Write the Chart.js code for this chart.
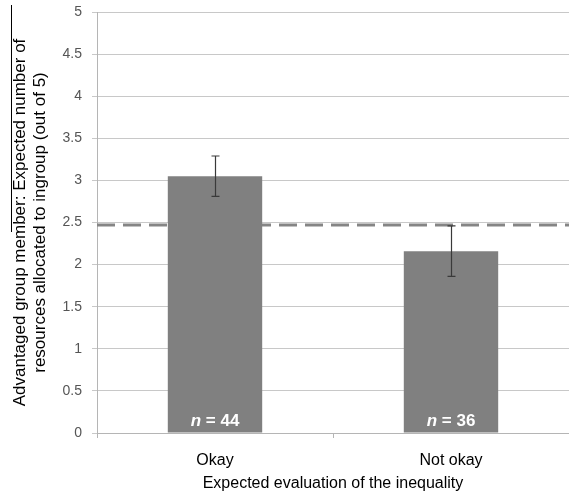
<!DOCTYPE html>
<html>
<head>
<meta charset="utf-8">
<script src="https://cdn.jsdelivr.net/npm/chart.js@4/dist/chart.umd.min.js"></script>
<style>
  html, body { margin: 0; padding: 0; background: #fff; }
  #wrap { width: 569px; height: 498px; }
</style>
</head>
<body>
<div id="wrap"><canvas id="chart" width="569" height="498"></canvas></div>
<script>
// values
const categories = ["Okay", "Not okay"];
const means = [3.05, 2.16];
const errors = [0.24, 0.3];
const sampleSizes = [44, 36];
const chanceLevel = 2.47;
const yTicks = [0, 0.5, 1, 1.5, 2, 2.5, 3, 3.5, 4, 4.5, 5];

const FONT = "'Liberation Sans', Arial, sans-serif";

// dashed reference line, drawn behind the bars
const refLine = {
  id: "refLine",
  beforeDatasetsDraw(chart) {
    const { ctx, chartArea, scales } = chart;
    const y = scales.y.getPixelForValue(chanceLevel);
    ctx.save();
    ctx.strokeStyle = "#858585";
    ctx.lineWidth = 3;
    ctx.setLineDash([18, 8]);
    ctx.beginPath();
    ctx.moveTo(chartArea.left, y);
    ctx.lineTo(chartArea.right, y);
    ctx.stroke();
    ctx.restore();
  },
};

// error bars and n labels
const barExtras = {
  id: "barExtras",
  afterDatasetsDraw(chart) {
    const { ctx, scales } = chart;
    const meta = chart.getDatasetMeta(0);
    ctx.save();
    meta.data.forEach((bar, i) => {
      const top = scales.y.getPixelForValue(means[i] + errors[i]);
      const bot = scales.y.getPixelForValue(means[i] - errors[i]);
      const x = Math.round(bar.x) + 0.5;
      ctx.strokeStyle = "#3a3a3a";
      ctx.lineWidth = 1.2;
      ctx.beginPath();
      ctx.moveTo(x, top);
      ctx.lineTo(x, bot);
      ctx.moveTo(x - 4, top);
      ctx.lineTo(x + 4, top);
      ctx.moveTo(x - 4, bot);
      ctx.lineTo(x + 4, bot);
      ctx.stroke();

      // "n = 44" inside the bar bottom
      const y = scales.y.getPixelForValue(0) - 12;
      const a = "n";
      const b = " = " + sampleSizes[i];
      ctx.fillStyle = "#ffffff";
      ctx.textBaseline = "middle";
      ctx.textAlign = "left";
      ctx.font = "italic bold 17px " + FONT;
      const wa = ctx.measureText(a).width;
      ctx.font = "bold 17px " + FONT;
      const wb = ctx.measureText(b).width;
      const x0 = bar.x - (wa + wb) / 2;
      ctx.font = "italic bold 17px " + FONT;
      ctx.fillText(a, x0, y);
      ctx.font = "bold 17px " + FONT;
      ctx.fillText(b, x0 + wa, y);
    });
    ctx.restore();
  },
  afterDraw(chart) {
    // stray rule beside the y-axis title in the original figure
    const { ctx } = chart;
    ctx.save();
    ctx.strokeStyle = "#000";
    ctx.lineWidth = 1;
    ctx.beginPath();
    ctx.moveTo(11.5, 5);
    ctx.lineTo(11.5, 232);
    ctx.stroke();
    ctx.restore();
  },
};

const ctx = document.getElementById("chart").getContext("2d");

new Chart(ctx, {
  type: "bar",
  data: {
    labels: categories,
    datasets: [
      {
        data: means,
        backgroundColor: "#808080",
        borderWidth: 0,
        barPercentage: 0.4,
        categoryPercentage: 1,
      },
    ],
  },
  options: {
    responsive: false,
    animation: false,
    layout: { padding: { left: 0, right: 0, top: 12, bottom: 0 } },
    plugins: {
      legend: { display: false },
      tooltip: { enabled: false },
    },
    scales: {
      x: {
        grid: {
          offset: true,
          drawOnChartArea: false,
          color: "#b5b5b5",
          tickLength: 5,
        },
        border: { color: "#b5b5b5" },
        ticks: {
          color: "#000",
          padding: 13,
          maxRotation: 0,
          font: { family: FONT, size: 16 },
        },
        title: {
          display: true,
          text: "Expected evaluation of the inequality",
          color: "#000",
          font: { family: FONT, size: 16 },
          padding: { top: 0, bottom: 5 },
        },
        afterFit(scale) {
          scale.height = 65;
          scale.paddingLeft = 0;
          scale.paddingRight = 0;
        },
      },
      y: {
        min: 0,
        max: 5,
        afterBuildTicks(scale) {
          scale.ticks = yTicks.map((v) => ({ value: v }));
        },
        grid: {
          color: "#c8c8c8",
          tickLength: 5,
        },
        border: { color: "#b5b5b5" },
        ticks: {
          color: "#555",
          padding: 10,
          font: { family: FONT, size: 14 },
          callback: (v) => String(v),
        },
        title: {
          display: true,
          text: [
            "Advantaged group member: Expected number of",
            "resources allocated to ingroup (out of 5)",
          ],
          color: "#000",
          font: { family: FONT, size: 17, lineHeight: 1.18 },
          padding: { top: 10, bottom: 0 },
        },
        afterFit(scale) {
          scale.width = 97;
          scale.paddingTop = 0;
          scale.paddingBottom = 0;
        },
      },
    },
  },
  plugins: [refLine, barExtras],
});
</script>
</body>
</html>
